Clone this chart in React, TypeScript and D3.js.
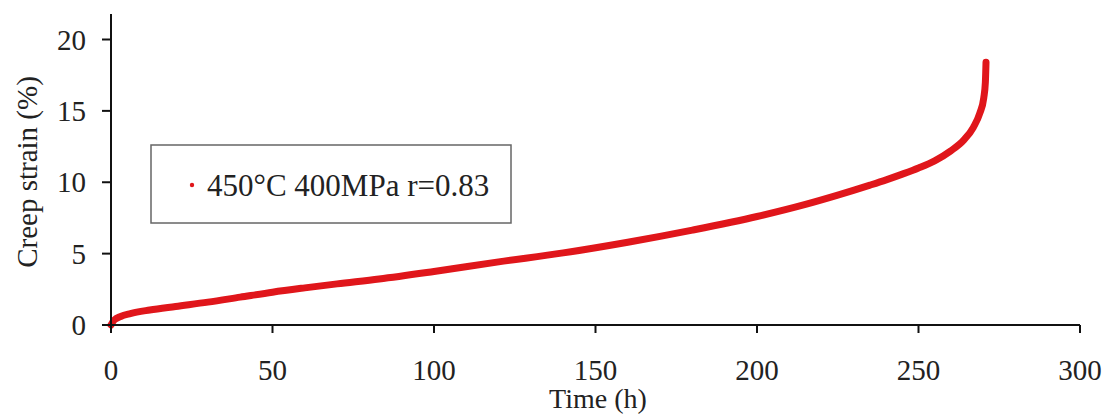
import React from "react";
import * as d3 from "d3";

const timeH: number[] = [0, 1, 3, 6, 12, 20, 30, 40, 50, 60, 70, 83, 100, 120, 140, 160, 180, 200, 215, 225, 235, 240, 245, 250, 255, 260, 264, 267, 269, 270.2, 270.7, 270.9];
const strainPct: number[] = [0, 0.35, 0.6, 0.8, 1.05, 1.3, 1.6, 1.95, 2.3, 2.6, 2.88, 3.22, 3.75, 4.42, 5.05, 5.8, 6.65, 7.6, 8.45, 9.1, 9.8, 10.17, 10.57, 11.0, 11.5, 12.2, 12.95, 13.85, 14.85, 15.9, 17.0, 18.4];
const xTicks: number[] = [0, 50, 100, 150, 200, 250, 300];
const yTicks: number[] = [0, 5, 10, 15, 20];
const seriesLabel = "450°C 400MPa r=0.83";
const xLabel = "Time (h)";
const yLabel = "Creep strain (%)";

export default function App() {
  const W = 1110, H = 420;
  const x = d3.scaleLinear().domain([0, 300]).range([111, 1080]);
  const y = d3.scaleLinear().domain([0, 20]).range([325, 39.5]);
  const yTop = y(21.78);
  const pts: [number, number][] = timeH.map((t, i) => [t, strainPct[i]]);
  const line = d3
    .line<[number, number]>()
    .x((d) => x(d[0]))
    .y((d) => y(d[1]))
    .curve(d3.curveMonotoneX);
  const font = "'Liberation Serif', 'Times New Roman', serif";
  const txt = "#222";
  return (
    <svg width={W} height={H} style={{ position: "absolute", left: 0, top: 0, background: "#fff" }} fontFamily={font}>
      <path d={line(pts) || ""} fill="none" stroke="#e0161b" strokeWidth={7} strokeLinecap="round" strokeLinejoin="round" />
      {/* axes */}
      <line x1={x(0)} x2={x(0)} y1={yTop} y2={y(0)} stroke="#111" strokeWidth={2} />
      <line x1={x(0)} x2={x(300)} y1={y(0)} y2={y(0)} stroke="#111" strokeWidth={2} />
      {xTicks.map((t) => (
        <g key={"x" + t}>
          <line x1={x(t)} x2={x(t)} y1={y(0)} y2={y(0) + 8} stroke="#111" strokeWidth={2} />
          <text x={x(t)} y={380} textAnchor="middle" fontSize={29} fill={txt}>
            {t}
          </text>
        </g>
      ))}
      {yTicks.map((v) => (
        <g key={"y" + v}>
          <line x1={x(0) - 9} x2={x(0)} y1={y(v)} y2={y(v)} stroke="#111" strokeWidth={2} />
          <text x={86} y={y(v) + 10} textAnchor="end" fontSize={29} fill={txt}>
            {v}
          </text>
        </g>
      ))}
      <text x={598} y={408} textAnchor="middle" fontSize={28} fill={txt}>
        {xLabel}
      </text>
      <text transform={`translate(37,172) rotate(-90)`} textAnchor="middle" fontSize={29} fill={txt}>
        {yLabel}
      </text>
      {/* legend */}
      <rect x={151} y={145} width={360} height={78} fill="#fff" stroke="#666" strokeWidth={1.5} />
      <circle cx={192} cy={185} r={2.2} fill="#e0161b" />
      <text x={207} y={196} fontSize={31} fill={txt}>
        {seriesLabel}
      </text>
    </svg>
  );
}
